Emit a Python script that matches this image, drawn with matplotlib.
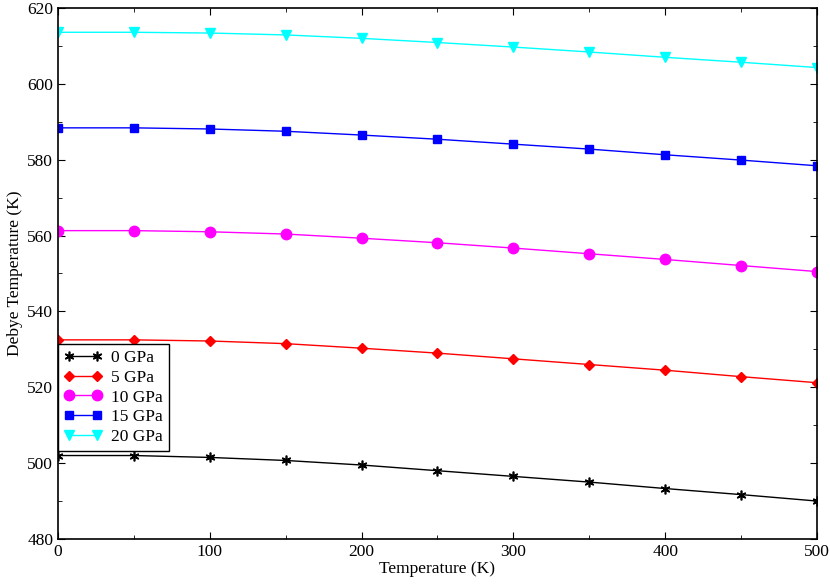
import matplotlib.pyplot as plt
from matplotlib.ticker import MultipleLocator

plt.rcParams['font.family'] = ['Liberation Serif', 'DejaVu Serif']

# ---------------- data ----------------
temperature = [0, 50, 100, 150, 200, 250, 300, 350, 400, 450, 500]

debye_0gpa = [502.0, 502.0, 501.5, 500.7, 499.5, 498.0, 496.5, 495.0, 493.3, 491.7, 490.0]
debye_5gpa = [532.5, 532.5, 532.2, 531.5, 530.3, 529.0, 527.5, 526.0, 524.5, 522.8, 521.2]
debye_10gpa = [561.3, 561.3, 561.0, 560.4, 559.3, 558.1, 556.7, 555.2, 553.7, 552.1, 550.5]
debye_15gpa = [588.4, 588.4, 588.1, 587.5, 586.5, 585.4, 584.1, 582.8, 581.3, 579.9, 578.4]
debye_20gpa = [613.6, 613.6, 613.4, 612.9, 612.0, 610.9, 609.7, 608.4, 607.0, 605.7, 604.3]

labels = ['0 GPa', '5 GPa', '10 GPa', '15 GPa', '20 GPa']

fig = plt.figure(figsize=(8.3, 5.84), dpi=100)
ax = fig.add_axes([0.0699, 0.0771, 0.9144, 0.9092])

# asterisk marker for 0 GPa
ax.plot(temperature, debye_0gpa, '-', color='black', marker=(6, 2, 0), ms=7, mew=1.2, lw=1, label=labels[0])
ax.plot(temperature, debye_5gpa, '-', color='#ff0000', marker='D', ms=5, lw=1, label=labels[1])
ax.plot(temperature, debye_10gpa, '-', color='#ff00ff', marker='o', ms=7.5, lw=1, label=labels[2])
ax.plot(temperature, debye_15gpa, '-', color='#0000ff', marker='s', ms=6, lw=1, label=labels[3])
ax.plot(temperature, debye_20gpa, '-', color='#00ffff', marker='v', ms=7, lw=1, label=labels[4])

ax.set_xlim(0, 500)
ax.set_ylim(480, 620)
ax.xaxis.set_major_locator(MultipleLocator(100))
ax.xaxis.set_minor_locator(MultipleLocator(50))
ax.yaxis.set_major_locator(MultipleLocator(20))
ax.yaxis.set_minor_locator(MultipleLocator(10))
ax.tick_params(which='both', direction='in', top=True, right=True, labelsize=12.5)
ax.tick_params(which='major', length=5)
ax.tick_params(which='minor', length=3)
for s in ax.spines.values():
    s.set_linewidth(1.2)

ax.set_xlabel('Temperature (K)', fontsize=12.5, labelpad=1)
ax.set_ylabel('Debye Temperature (K)', fontsize=12.5, labelpad=3)

leg = ax.legend(loc='lower left', bbox_to_anchor=(0.0, 0.166), fontsize=12.5,
                numpoints=2, handlelength=2.2, fancybox=False, framealpha=1,
                edgecolor='black', borderaxespad=0, labelspacing=0.2,
                handletextpad=0.5, borderpad=0.35)
leg.get_frame().set_linewidth(1.0)

fig.savefig('out.png', dpi=100)
